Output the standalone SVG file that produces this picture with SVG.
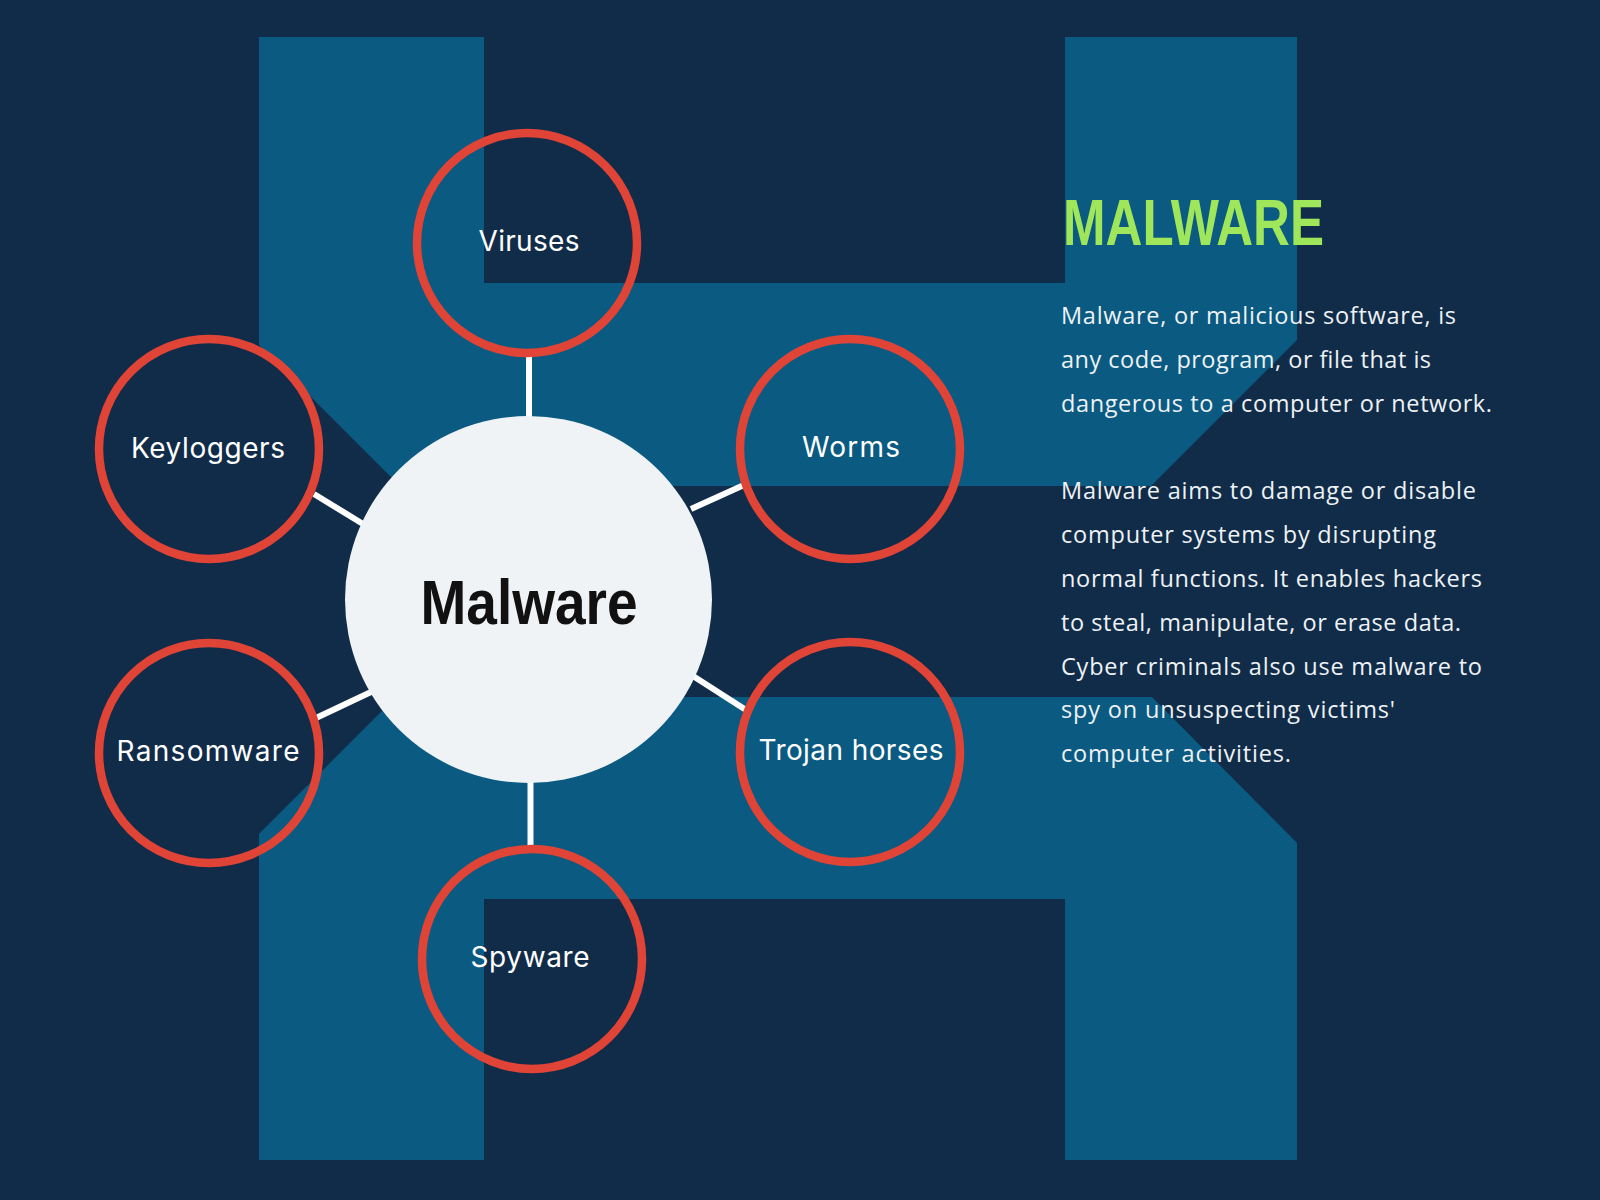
<svg xmlns="http://www.w3.org/2000/svg" width="1600" height="1200" viewBox="0 0 1600 1200">
  <style>
    .bg { fill: #112c49; }
    .hshape { fill: #0a5a82; }
    .ring { fill: none; stroke: #df4437; stroke-width: 8.5; }
    .hub { fill: #eff3f6; }
    .conn { stroke: #ffffff; stroke-width: 6; stroke-linecap: butt; }
    .label { font-family: Inter, "Noto Sans", "Liberation Sans", sans-serif; font-size: 28px; fill: #ffffff; text-anchor: middle; }
    .hubtext { font-family: "Liberation Sans", Arial, sans-serif; font-weight: bold; font-size: 63px; fill: #111111; text-anchor: middle; }
    .title { font-family: "Liberation Sans", Arial, sans-serif; font-weight: bold; font-size: 64px; fill: #9fe65a; }
    .para { font-family: "Open Sans", Inter, "Liberation Sans", sans-serif; font-size: 23.5px; fill: #eef2f5; }
  </style>

  <rect class="bg" x="0" y="0" width="1600" height="1200"/>

  <g id="background-h">
    <polygon class="hshape" points="259,37 484,37 484,283 1065,283 1065,37 1297,37 1297,340 1151,486 400,486 259,345"/>
    <polygon class="hshape" points="259,834 396,697 1152,697 1297,843 1297,1160 1065,1160 1065,899 484,899 484,1160 259,1160"/>
  </g>

  <g id="connectors">
    <line class="conn" x1="529" y1="356" x2="529" y2="418"/>
    <line class="conn" x1="530.5" y1="782" x2="530.5" y2="846"/>
    <line class="conn" x1="314" y1="494" x2="363" y2="524"/>
    <line class="conn" x1="691" y1="509" x2="744" y2="485"/>
    <line class="conn" x1="316" y1="718" x2="371" y2="692"/>
    <line class="conn" x1="693" y1="676" x2="746" y2="710"/>
  </g>

  <g id="hub">
    <circle class="hub" cx="528.5" cy="599.5" r="183.5"/>
    <text class="hubtext" x="529" y="624" textLength="217" lengthAdjust="spacingAndGlyphs">Malware</text>
  </g>

  <g id="node-viruses">
    <circle class="ring" cx="527" cy="243" r="110"/>
    <text class="label" x="529" y="251" textLength="101">Viruses</text>
  </g>
  <g id="node-keyloggers">
    <circle class="ring" cx="209" cy="449" r="110"/>
    <text class="label" x="208" y="458" textLength="154">Keyloggers</text>
  </g>
  <g id="node-worms">
    <circle class="ring" cx="850" cy="449" r="110"/>
    <text class="label" x="851" y="457" textLength="98">Worms</text>
  </g>
  <g id="node-ransomware">
    <circle class="ring" cx="209" cy="753" r="110"/>
    <text class="label" x="208" y="761" textLength="183">Ransomware</text>
  </g>
  <g id="node-trojan">
    <circle class="ring" cx="850" cy="752" r="110"/>
    <text class="label" x="851" y="760" textLength="185">Trojan horses</text>
  </g>
  <g id="node-spyware">
    <circle class="ring" cx="532" cy="959" r="110"/>
    <text class="label" x="530" y="967" textLength="119">Spyware</text>
  </g>

  <g id="description">
    <text class="title" x="1063" y="245" textLength="261" lengthAdjust="spacingAndGlyphs">MALWARE</text>
    <text class="para" x="1061" y="324" textLength="395">Malware, or malicious software, is</text>
    <text class="para" x="1061" y="368" textLength="370">any code, program, or file that is</text>
    <text class="para" x="1061" y="412" textLength="431">dangerous to a computer or network.</text>
    <text class="para" x="1061" y="499" textLength="415">Malware aims to damage or disable</text>
    <text class="para" x="1061" y="543" textLength="375">computer systems by disrupting</text>
    <text class="para" x="1061" y="587" textLength="421">normal functions. It enables hackers</text>
    <text class="para" x="1061" y="631" textLength="400">to steal, manipulate, or erase data.</text>
    <text class="para" x="1061" y="675" textLength="421">Cyber criminals also use malware to</text>
    <text class="para" x="1061" y="718" textLength="334">spy on unsuspecting victims'</text>
    <text class="para" x="1061" y="762" textLength="230">computer activities.</text>
  </g>
</svg>
